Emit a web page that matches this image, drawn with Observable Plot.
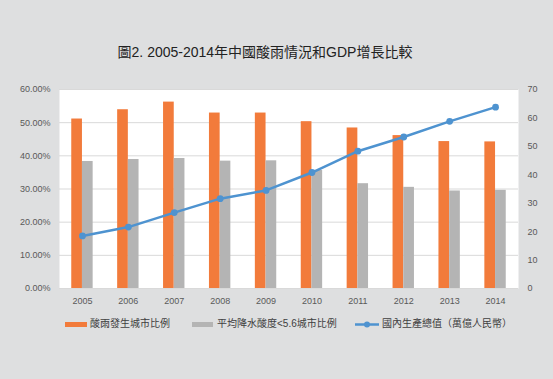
<!DOCTYPE html>
<html>
<head>
<meta charset="utf-8">
<script src="https://cdn.jsdelivr.net/npm/d3@7"></script>
<script src="https://cdn.jsdelivr.net/npm/@observablehq/plot@0.6"></script>
<style>
  html, body { margin: 0; padding: 0; }
  body { width: 553px; height: 379px; background: #dedfe0; overflow: hidden;
         font-family: "Liberation Sans", "Noto Sans CJK TC", sans-serif; position: relative; }
  #title { height: 70px; box-sizing: border-box; padding-top: 45px; padding-right: 23px; line-height: 14px;
           font-size: 14px; text-align: center; color: #222; }
  #chart svg { display: block; }
  #legend { position: relative; height: 30px; font-size: 10px; color: #404040; }
  #legend .sw { position: absolute; }
  #legend .lab { position: absolute; top: 8px; line-height: 12px; white-space: nowrap; }
</style>
</head>
<body>
<div id="title">圖2. 2005-2014年中國酸雨情況和GDP增長比較</div>
<div id="chart"></div>
<div id="legend"></div>
<script>
const years = ["2005","2006","2007","2008","2009","2010","2011","2012","2013","2014"];
const acidRainCityPct = [51.1, 53.9, 56.2, 52.9, 52.9, 50.3, 48.4, 46.1, 44.3, 44.2];
const lowPhCityPct = [38.3, 38.9, 39.2, 38.4, 38.5, 35.6, 31.6, 30.5, 29.4, 29.6];
const gdpTrillionRmb = [18.5, 21.6, 26.7, 31.6, 34.5, 40.8, 48.3, 53.3, 58.8, 63.8];
const leftTicks = [0, 10, 20, 30, 40, 50, 60];
const rightTicks = [0, 10, 20, 30, 40, 50, 60, 70];
const seriesNames = ["酸雨發生城市比例", "平均降水酸度<5.6城市比例", "國內生產總值（萬億人民幣）"];

const orange = "#f27b3b", gray = "#b4b4b4", blue = "#4e93d0";
const ratio = 60 / 70;

const rows = years.map((y, i) => ({
  year: y, acid: acidRainCityPct[i], lowph: lowPhCityPct[i], gdp: gdpTrillionRmb[i]
}));

const chart = Plot.plot({
  width: 553,
  height: 240,
  marginTop: 19,
  marginBottom: 22,
  marginLeft: 59,
  marginRight: 35,
  style: { background: "transparent", fontFamily: "Liberation Sans, sans-serif", fontSize: "9px", color: "#595959" },
  x: { type: "band", domain: years, paddingInner: 0.767, paddingOuter: 0.3835, round: false },
  y: { domain: [0, 60] },
  marks: [
    Plot.frame({ fill: "white", stroke: null }),
    Plot.gridY(leftTicks, { stroke: "#d9d9d9", strokeOpacity: 1 }),
    Plot.barY(rows, { x: "year", y: "acid", fill: orange, dx: -5.35 }),
    Plot.barY(rows, { x: "year", y: "lowph", fill: gray, dx: 5.35 }),
    Plot.line(rows, { x: "year", y: d => d.gdp * ratio, stroke: blue, strokeWidth: 2.5 }),
    Plot.dot(rows, { x: "year", y: d => d.gdp * ratio, fill: blue, r: 3.4 }),
    Plot.axisY(leftTicks, { anchor: "left", tickSize: 0, tickPadding: 9, tickFormat: d => d.toFixed(2) + "%", label: null, fill: "#595959" }),
    Plot.axisY(rightTicks.map(v => v * ratio), { anchor: "right", tickSize: 0, tickPadding: 9, tickFormat: d => String(Math.round(d / ratio)), label: null, fill: "#595959" }),
    Plot.axisX({ tickSize: 0, tickPadding: 9, label: null, fill: "#595959" })
  ]
});
document.getElementById("chart").appendChild(chart);

// legend
const legend = document.getElementById("legend");
const items = [
  { sw: `<div class="sw" style="left:65px;top:12px;width:22px;height:5px;background:${orange}"></div>`, x: 90 },
  { sw: `<div class="sw" style="left:192px;top:12px;width:21px;height:5px;background:${gray}"></div>`, x: 217 },
  { sw: `<svg class="sw" style="left:355px;top:9px" width="24" height="11"><line x1="0" y1="5.5" x2="24" y2="5.5" stroke="${blue}" stroke-width="2.5"/><circle cx="12" cy="5.5" r="3" fill="${blue}"/></svg>`, x: 382 }
];
items.forEach((it, i) => {
  legend.insertAdjacentHTML("beforeend", it.sw + `<div class="lab" style="left:${it.x}px">${seriesNames[i]}</div>`);
});
</script>
</body>
</html>
